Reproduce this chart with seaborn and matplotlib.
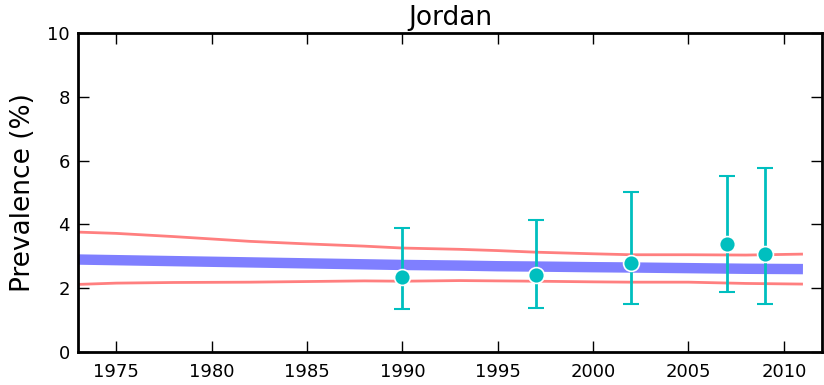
import pandas as pd
import matplotlib
matplotlib.use("Agg")
import matplotlib.pyplot as plt
import seaborn as sns

# model curve (mean and uncertainty band)
years = [1973, 1975, 1978, 1982, 1985, 1988, 1990, 1993, 1995, 1997, 2000, 2002, 2005, 2008, 2011]
mean = [2.90, 2.88, 2.85, 2.81, 2.78, 2.75, 2.73, 2.71, 2.69, 2.68, 2.66, 2.65, 2.63, 2.61, 2.60]
upper = [3.76, 3.72, 3.62, 3.47, 3.39, 3.32, 3.26, 3.22, 3.18, 3.13, 3.08, 3.05, 3.05, 3.04, 3.07]
lower = [2.12, 2.16, 2.18, 2.19, 2.21, 2.23, 2.22, 2.24, 2.23, 2.22, 2.20, 2.19, 2.19, 2.15, 2.13]

# survey data points with error bars
obs_years = [1990, 1997, 2002, 2007, 2009]
obs_val = [2.35, 2.41, 2.79, 3.39, 3.07]
obs_lo = [1.35, 1.38, 1.52, 1.88, 1.52]
obs_hi = [3.89, 4.14, 5.02, 5.52, 5.77]

curve = pd.DataFrame({"year": years, "mean": mean, "upper": upper, "lower": lower})
obs = pd.DataFrame({"year": obs_years, "val": obs_val, "lo": obs_lo, "hi": obs_hi})

sns.set_style("white", {"text.color": "black", "axes.labelcolor": "black",
                        "xtick.color": "black", "ytick.color": "black"})
plt.rcParams['font.family'] = ['DejaVu Sans']

fig = plt.figure(figsize=(8.24, 3.85), dpi=100)
ax = fig.add_axes([0.0947, 0.0857, 0.9029, 0.8283])

cyan = (0, 0.75, 0.75)
sns.lineplot(data=curve, x="year", y="mean", ax=ax, color="blue", alpha=0.5,
             linewidth=7.5, solid_capstyle="butt")
sns.lineplot(data=curve, x="year", y="upper", ax=ax, color="red", alpha=0.5,
             linewidth=2, solid_capstyle="butt")
sns.lineplot(data=curve, x="year", y="lower", ax=ax, color="red", alpha=0.5,
             linewidth=2, solid_capstyle="butt")

yerr = [obs["val"] - obs["lo"], obs["hi"] - obs["val"]]
ax.errorbar(obs["year"], obs["val"], yerr=yerr, fmt="none", ecolor=cyan,
            elinewidth=2, capsize=6, capthick=1.5, zorder=3)
sns.scatterplot(data=obs, x="year", y="val", ax=ax, color=cyan, s=130,
                edgecolor="white", linewidth=1.2, zorder=4)

ax.set_xlim(1973, 2012)
ax.set_ylim(0, 10)
ax.set_xticks([1975, 1980, 1985, 1990, 1995, 2000, 2005, 2010])
ax.set_yticks([0, 2, 4, 6, 8, 10])
ax.tick_params(direction="in", length=8, width=1, top=True, right=True,
               bottom=True, left=True, labelsize=13, pad=8, colors="black")
ax.tick_params(axis="y", pad=6)
for s in ax.spines.values():
    s.set_linewidth(2)
    s.set_color("black")
ax.set_xlabel("")
ax.set_ylabel("Prevalence (%)", fontsize=19, labelpad=8)
ax.set_title("Jordan", fontsize=19, pad=6)

fig.savefig("out.png", dpi=100)
